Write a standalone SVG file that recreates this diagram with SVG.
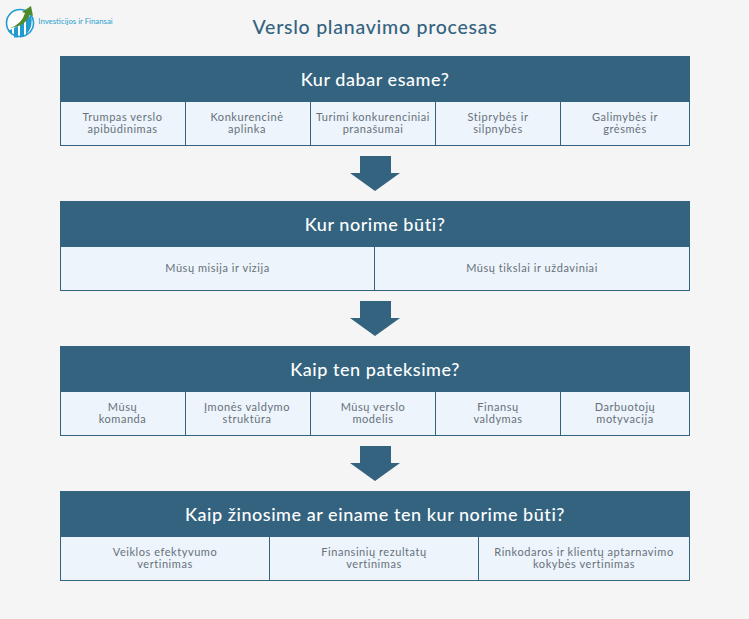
<svg xmlns="http://www.w3.org/2000/svg" width="749" height="619" viewBox="0 0 749 619">
<style>
text{font-family:"Lato","Open Sans",sans-serif;text-anchor:middle}
.h{fill:#33637f}
.c{fill:#edf4fb;stroke:#33637f;stroke-width:1}
.t{font-size:18px;fill:#fff;font-weight:500;letter-spacing:.55px}
.s{font-size:11px;fill:#66717a;letter-spacing:.55px}
.a{fill:#33637f}
</style>
<rect width="749" height="619" fill="#f5f5f5"/>
<g id="logo">
<circle cx="20" cy="23" r="13.5" fill="#fff" stroke="#1f9bd1" stroke-width="1.6"/>
<path d="M8 31L12 29V35ZM14 28L18 26V37.500H14ZM20 24L24 22V36.500L20 37.500ZM26 20L31 15Q34 26 26 35Z" fill="#1f9bd1"/>
<path d="M10 28Q22 24 25 13L22 12L31 6L33 16L30 14.500Q26 26 10 28Z" fill="#4f8a2c"/>
<text x="75.500" y="23.500" style="font-size:7.8px;fill:#2a9fd0">Investicijos ir Finansai</text>
</g>
<text id="title" x="375" y="34" style="font-size:19.500px;fill:#33637f;font-weight:500;letter-spacing:.75px">Verslo planavimo procesas</text>
<g id="connectors" class="a">
<path d="M360 156H391V173H400L375 191L350 173H360Z"/>
<path d="M360 301H391V318H400L375 336L350 318H360Z"/>
<path d="M360 446H391V463H400L375 481L350 463H360Z"/>
</g>
<g id="section1">
<rect class="h" x="60" y="56" width="630" height="46"/>
<text class="t" x="375" y="86">Kur dabar esame?</text>
<rect class="c" x="60.500" y="101.500" width="125" height="44"/><rect class="c" x="185.500" y="101.500" width="125" height="44"/><rect class="c" x="310.500" y="101.500" width="125" height="44"/><rect class="c" x="435.500" y="101.500" width="125" height="44"/><rect class="c" x="560.500" y="101.500" width="129" height="44"/>
<text class="s" x="122.500" y="121">Trumpas verslo</text><text class="s" x="122.500" y="133">apibūdinimas</text>
<text class="s" x="247" y="121">Konkurencinė</text><text class="s" x="247" y="133">aplinka</text>
<text class="s" x="373" y="121">Turimi konkurenciniai</text><text class="s" x="373" y="133">pranašumai</text>
<text class="s" x="498" y="121">Stiprybės ir</text><text class="s" x="498" y="133">silpnybės</text>
<text class="s" x="625" y="121">Galimybės ir</text><text class="s" x="625" y="133">grėsmės</text>
</g>
<g id="section2">
<rect class="h" x="60" y="201" width="630" height="46"/>
<text class="t" x="375" y="231">Kur norime būti?</text>
<rect class="c" x="60.500" y="246.500" width="314" height="44"/><rect class="c" x="374.500" y="246.500" width="315" height="44"/>
<text class="s" x="217.500" y="272">Mūsų misija ir vizija</text>
<text class="s" x="532" y="272">Mūsų tikslai ir uždaviniai</text>
</g>
<g id="section3">
<rect class="h" x="60" y="346" width="630" height="46"/>
<text class="t" x="375" y="376">Kaip ten pateksime?</text>
<rect class="c" x="60.500" y="391.500" width="125" height="44"/><rect class="c" x="185.500" y="391.500" width="125" height="44"/><rect class="c" x="310.500" y="391.500" width="125" height="44"/><rect class="c" x="435.500" y="391.500" width="125" height="44"/><rect class="c" x="560.500" y="391.500" width="129" height="44"/>
<text class="s" x="122.500" y="411">Mūsų</text><text class="s" x="122.500" y="423">komanda</text>
<text class="s" x="247" y="411">Įmonės valdymo</text><text class="s" x="247" y="423">struktūra</text>
<text class="s" x="373" y="411">Mūsų verslo</text><text class="s" x="373" y="423">modelis</text>
<text class="s" x="498" y="411">Finansų</text><text class="s" x="498" y="423">valdymas</text>
<text class="s" x="625" y="411">Darbuotojų</text><text class="s" x="625" y="423">motyvacija</text>
</g>
<g id="section4">
<rect class="h" x="60" y="491" width="630" height="46"/>
<text class="t" x="375" y="521">Kaip žinosime ar einame ten kur norime būti?</text>
<rect class="c" x="60.500" y="536.500" width="209" height="44"/><rect class="c" x="269.500" y="536.500" width="209" height="44"/><rect class="c" x="478.500" y="536.500" width="211" height="44"/>
<text class="s" x="165" y="556">Veiklos efektyvumo</text><text class="s" x="165" y="568">vertinimas</text>
<text class="s" x="374" y="556">Finansinių rezultatų</text><text class="s" x="374" y="568">vertinimas</text>
<text class="s" x="584" y="556">Rinkodaros ir klientų aptarnavimo</text><text class="s" x="584" y="568">kokybės vertinimas</text>
</g>
</svg>
